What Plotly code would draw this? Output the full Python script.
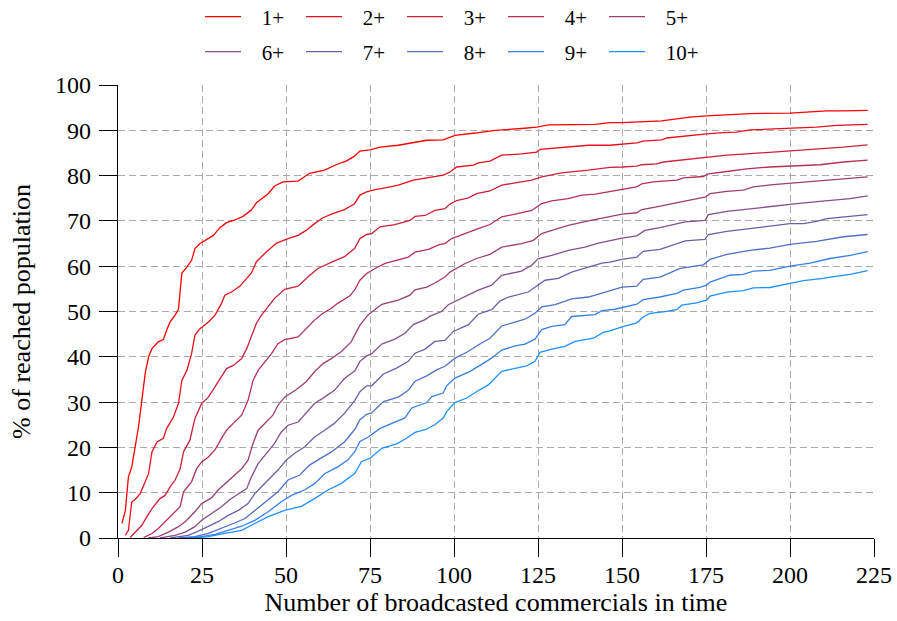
import plotly.graph_objects as go

# ---- data ----
series_names = ["1+", "2+", "3+", "4+", "5+", "6+", "7+", "8+", "9+", "10+"]

x_1p = [1.2, 2.2, 3.1, 4.1, 5.1, 6.1, 7.1, 8.1, 9.1, 10.1, 12.0, 13.5, 14.5, 15.5, 17.0, 18.0, 19.0, 20.5, 21.9, 22.9, 24.4, 26.4, 28.4, 30.3, 32.3, 34.8, 37.2, 39.7, 41.2, 44.7, 46.6, 49.1, 53.6, 57.0, 61.5, 64.9, 67.9, 70.4, 72.0, 75.0, 78.0, 83.4, 88.4, 91.9, 96.8, 100.3, 106.3, 112.2, 120.1, 124.6, 128.1, 134, 142, 146.4, 150, 161.8, 166.3, 170.2, 175.2, 182.1, 188.1, 200, 206, 210.9, 215.9, 223.1]
y_1p = [3.3, 6.1, 13.5, 15.7, 20.1, 24.5, 30.4, 36.4, 40.0, 41.8, 43.3, 43.8, 45.9, 47.7, 49.2, 50.5, 58.5, 59.8, 61.3, 63.9, 65.0, 65.9, 66.8, 68.5, 69.6, 70.2, 71.0, 72.4, 74.0, 76.0, 77.7, 78.6, 78.8, 80.5, 81.2, 82.4, 83.2, 84.3, 85.4, 85.7, 86.3, 86.7, 87.4, 87.8, 87.9, 88.9, 89.4, 90.0, 90.4, 90.7, 91.2, 91.3, 91.3, 91.7, 91.7, 92.1, 92.6, 92.9, 93.2, 93.5, 93.7, 93.8, 94.0, 94.3, 94.3, 94.4]

x_2p = [2.2, 3.1, 4.1, 5.1, 6.6, 8.1, 9.1, 10.1, 11.6, 13.5, 14.5, 16.5, 18.0, 19.0, 20.5, 21.9, 22.9, 24.4, 26.9, 28.9, 30.8, 31.8, 33.8, 36.3, 38.3, 39.7, 41.2, 44.2, 47.2, 50.6, 53.6, 56.0, 58.5, 61.0, 63.9, 67.4, 70.4, 72.0, 74.0, 76.5, 79.5, 83.4, 87.9, 91.9, 96.8, 98.8, 100.8, 105.8, 107.2, 110.7, 114.2, 120.1, 124.6, 125.6, 132, 140, 146.4, 150, 154.4, 156.3, 161.8, 163.3, 170.2, 175.2, 180.2, 184.1, 188.1, 196, 202, 207.9, 213.9, 223.1]
y_2p = [0.6, 1.7, 8.0, 8.5, 9.8, 12.4, 14.2, 19.0, 21.2, 22.0, 24.2, 26.7, 29.7, 34.8, 37.0, 40.7, 44.8, 46.2, 47.7, 49.2, 51.8, 53.6, 54.3, 55.6, 57.3, 58.5, 61.0, 63.2, 65.1, 66.1, 66.8, 67.9, 69.4, 70.7, 71.6, 72.5, 73.8, 75.7, 76.4, 76.9, 77.3, 77.9, 79.0, 79.5, 80.1, 80.8, 81.9, 82.3, 82.8, 83.2, 84.5, 84.8, 85.2, 85.8, 86.2, 86.7, 86.7, 87.0, 87.2, 87.6, 87.9, 88.3, 88.9, 89.2, 89.5, 89.6, 90.1, 90.4, 90.6, 90.7, 91.1, 91.3]

x_3p = [3.6, 5.1, 7.1, 8.6, 10.1, 12.5, 14.0, 15.5, 17.0, 18.5, 19.5, 21.4, 22.9, 24.9, 26.9, 28.9, 30.8, 32.3, 34.3, 36.8, 38.3, 39.7, 41.2, 42.7, 44.7, 46.6, 49.6, 53.6, 56.5, 59.5, 63.9, 67.4, 70.4, 72.0, 74.0, 75.5, 78.0, 82.4, 86.9, 88.4, 91.4, 94.3, 97.3, 98.8, 100.8, 104.3, 106.7, 110.7, 114.2, 118.2, 123.1, 126.1, 132, 140, 146.4, 150, 154.4, 155.9, 160.3, 162.3, 167.3, 172.2, 175.2, 181.2, 187.1, 193.1, 200, 207.9, 215.9, 223.1]
y_3p = [0.1, 1.3, 2.8, 4.7, 6.5, 8.7, 9.4, 11.3, 12.8, 15.3, 19.0, 21.6, 26.4, 29.7, 31.1, 33.4, 35.6, 37.4, 38.1, 39.6, 41.8, 44.4, 47.4, 49.2, 51.0, 52.9, 54.9, 55.6, 57.6, 59.5, 61.0, 62.1, 63.9, 66.1, 67.0, 67.2, 68.7, 69.2, 70.1, 71.0, 71.2, 72.3, 72.7, 73.7, 74.5, 75.1, 76.0, 76.6, 77.9, 78.4, 79.0, 79.7, 80.6, 81.2, 81.8, 81.9, 82.1, 82.4, 82.6, 83.0, 83.4, 83.7, 84.1, 84.5, 84.8, 85.1, 85.4, 85.8, 86.3, 86.8]

x_4p = [7.6, 10.1, 12.0, 14.0, 16.5, 18.5, 19.5, 21.9, 23.4, 24.9, 26.9, 28.9, 30.8, 32.3, 34.3, 36.8, 38.7, 40.2, 41.7, 44.2, 45.7, 47.6, 49.6, 53.6, 56.0, 58.5, 61.0, 63.5, 65.4, 68.9, 70.4, 72.0, 74.0, 76.5, 79.5, 83.4, 86.4, 88.4, 92.4, 95.8, 97.3, 99.3, 103.3, 107.2, 110.7, 114.2, 118.2, 123.1, 126.1, 129.1, 134, 138, 142, 147.9, 150, 154.4, 155.9, 159.3, 166.3, 168.3, 174.2, 175.7, 181.2, 187.1, 194, 200, 208.9, 215.9, 223.1]
y_4p = [0.1, 1.0, 2.1, 3.6, 5.4, 6.9, 10.2, 12.4, 15.3, 16.8, 17.9, 19.5, 22.0, 23.8, 25.3, 27.1, 30.4, 34.8, 37.0, 39.2, 40.7, 42.9, 43.8, 44.4, 46.2, 48.1, 49.6, 50.7, 51.8, 53.4, 54.7, 56.9, 58.4, 59.5, 60.6, 61.3, 62.0, 63.1, 63.7, 64.8, 65.0, 66.1, 67.3, 68.3, 69.2, 70.9, 71.5, 72.3, 73.8, 74.4, 74.9, 75.7, 75.9, 76.6, 77.0, 77.5, 78.2, 78.6, 79.0, 79.5, 79.8, 80.4, 80.9, 81.5, 81.9, 82.1, 82.4, 83.0, 83.4]

x_5p = [9.0, 12.0, 15.0, 18.0, 20.0, 22.9, 24.9, 27.9, 29.8, 32.3, 34.3, 36.8, 38.7, 40.2, 41.7, 44.2, 46.1, 47.6, 49.6, 53.1, 56.0, 58.5, 61.0, 63.5, 66.4, 69.4, 70.5, 72.0, 74.5, 78.5, 83.4, 86.9, 88.4, 91.9, 94.3, 97.3, 98.8, 103.3, 106.7, 110.7, 114.2, 120.1, 123.6, 126.1, 129.1, 134, 140, 146.4, 150, 154.4, 155.9, 160.3, 166.3, 170.2, 174.9, 176.2, 181.2, 186.1, 189.1, 195, 202, 207.9, 215.9, 223.1]
y_5p = [0.0, 0.3, 1.3, 2.5, 3.6, 5.8, 7.6, 8.9, 10.6, 12.2, 13.5, 15.3, 17.2, 20.9, 23.8, 25.6, 27.1, 29.3, 31.1, 32.8, 34.5, 36.7, 38.5, 39.6, 41.1, 43.3, 44.8, 47.0, 49.3, 51.6, 52.5, 53.6, 54.8, 55.4, 56.3, 57.6, 58.7, 60.6, 61.7, 62.6, 64.2, 65.0, 65.7, 67.2, 67.9, 69.0, 70.0, 70.9, 71.5, 71.8, 72.5, 73.1, 74.0, 74.5, 75.3, 76.0, 76.5, 76.8, 77.5, 78.0, 78.4, 78.8, 79.3, 79.7]

x_6p = [12.5, 17.0, 20.0, 22.9, 24.9, 27.9, 30.8, 33.3, 35.8, 38.3, 39.7, 41.7, 44.2, 46.6, 48.6, 50.6, 53.6, 56.0, 58.5, 61.5, 64.4, 67.4, 70.5, 72.0, 74.0, 75.5, 78.5, 82.4, 85.4, 87.9, 91.4, 92.9, 96.3, 98.3, 101.3, 103.3, 107.2, 111.2, 114.2, 120.1, 123.1, 125.1, 129.1, 134, 139, 143, 146.4, 150, 154.4, 156.8, 161.3, 166.3, 168.8, 174.7, 175.7, 181.2, 188.1, 196, 202, 208.9, 217.9, 223.1]
y_6p = [0.0, 0.6, 1.3, 2.5, 3.9, 5.4, 6.9, 8.5, 9.8, 10.9, 13.5, 16.4, 18.7, 20.9, 23.4, 24.9, 25.6, 27.5, 29.7, 31.1, 32.6, 35.2, 36.9, 39.0, 40.2, 40.7, 42.8, 43.9, 45.2, 47.1, 48.2, 49.0, 50.0, 51.5, 52.6, 53.2, 54.7, 55.8, 58.0, 58.9, 60.2, 61.7, 62.4, 63.5, 64.2, 65.1, 65.7, 66.2, 66.7, 67.9, 68.5, 69.4, 69.8, 70.1, 71.4, 72.1, 72.7, 73.3, 73.8, 74.3, 74.9, 75.5]

x_7p = [15.5, 20.9, 23.9, 26.9, 29.8, 32.8, 35.8, 38.7, 40.7, 42.7, 45.2, 47.6, 50.1, 52.6, 55.5, 58.5, 61.5, 64.4, 67.4, 70.5, 72.0, 74.0, 75.5, 79.0, 82.9, 86.4, 88.4, 91.4, 94.3, 97.3, 99.8, 104.3, 107.2, 111.2, 113.7, 116.2, 122.1, 125.1, 127.1, 131, 135, 140, 144, 146.4, 150, 154.4, 156.3, 161.3, 167.3, 168.8, 174.7, 175.7, 181.2, 188.1, 194, 200, 204, 207.9, 210.9, 217.9, 223.1]
y_7p = [0.0, 0.6, 1.5, 2.5, 3.6, 5.0, 6.1, 7.6, 9.8, 11.3, 13.1, 15.0, 17.2, 18.7, 20.1, 22.3, 23.8, 25.3, 27.5, 30.4, 32.3, 33.6, 33.6, 36.2, 37.5, 39.0, 40.8, 41.7, 43.4, 43.6, 45.6, 47.1, 49.4, 50.4, 52.3, 53.2, 54.3, 55.8, 56.9, 57.3, 58.7, 59.8, 60.7, 60.9, 61.5, 62.0, 63.3, 63.7, 65.3, 65.6, 65.9, 67.0, 67.7, 68.3, 68.9, 69.4, 69.4, 69.9, 70.5, 71.1, 71.4]

x_8p = [18.0, 22.9, 26.9, 30.8, 34.3, 37.8, 40.7, 44.2, 47.6, 50.6, 54.1, 57.0, 60.0, 63.5, 67.4, 70.5, 72.0, 74.0, 75.5, 79.0, 83.4, 86.4, 88.4, 91.9, 94.8, 97.3, 100.3, 103.8, 107.2, 110.7, 114.2, 117.7, 121.1, 124.1, 126.1, 130.1, 135, 140, 144.9, 146.4, 150, 154.4, 156.3, 161.3, 167.3, 174.2, 176.2, 181.2, 188.1, 194, 200, 207.9, 215.9, 223.1]
y_8p = [0.0, 0.3, 1.0, 2.1, 3.2, 4.3, 6.1, 8.3, 10.2, 12.8, 13.9, 16.1, 17.5, 19.0, 21.2, 24.0, 26.1, 27.3, 27.6, 30.1, 31.1, 32.6, 34.6, 35.8, 37.1, 37.9, 39.7, 41.0, 42.6, 44.1, 46.8, 47.6, 48.3, 49.6, 51.0, 51.5, 52.8, 53.2, 54.3, 54.7, 55.4, 55.6, 57.1, 57.6, 59.5, 60.3, 61.5, 62.6, 63.5, 64.0, 64.8, 65.5, 66.5, 67.0]

x_9p = [20.0, 24.9, 28.9, 32.8, 36.8, 40.7, 44.7, 48.6, 51.6, 55.5, 58.5, 61.5, 65.4, 68.4, 70.5, 72.0, 74.5, 78.0, 81.4, 85.4, 87.4, 91.9, 93.4, 96.8, 97.8, 100.3, 104.8, 108.2, 111.2, 114.2, 118.2, 121.1, 124.1, 126.1, 129.1, 133, 135, 142, 144, 147.9, 150, 154.4, 156.3, 161.3, 166.3, 168.3, 173.2, 175.2, 176.2, 182.1, 186.1, 189.1, 194, 200, 206, 211.9, 217.9, 223.1]
y_9p = [0.0, 0.3, 0.8, 1.7, 2.6, 3.9, 5.8, 8.0, 9.4, 10.6, 12.0, 14.2, 15.7, 17.2, 19.1, 21.3, 22.3, 24.2, 25.3, 26.5, 28.7, 29.9, 31.2, 32.0, 33.6, 35.3, 36.8, 38.4, 39.7, 41.5, 42.4, 42.8, 43.9, 46.0, 46.7, 47.1, 48.9, 49.3, 50.2, 50.5, 50.9, 51.6, 52.6, 53.2, 54.0, 54.7, 55.3, 55.8, 56.5, 58.0, 58.2, 58.9, 59.1, 60.0, 60.7, 61.7, 62.4, 63.2]

x_10p = [22.0, 26.9, 31.8, 36.8, 40.7, 44.7, 49.6, 54.6, 58.5, 62.5, 66.4, 70.5, 72.5, 75.0, 78.5, 82.9, 85.4, 88.4, 91.4, 94.3, 96.8, 97.8, 100.3, 103.8, 106.7, 110.2, 114.2, 118.2, 121.6, 124.1, 125.6, 129.1, 133, 136, 141.5, 144.4, 146.4, 150, 154.4, 156.3, 158.3, 162.3, 166.3, 167.8, 172.2, 175.2, 176.2, 181.2, 186.1, 189.1, 194, 200, 204, 209.9, 211.9, 217.9, 223.1]
y_10p = [0.0, 0.3, 1.0, 1.7, 3.2, 4.7, 6.1, 7.0, 8.7, 10.6, 12.0, 14.3, 16.9, 17.6, 19.8, 20.8, 21.8, 23.3, 23.9, 25.0, 26.5, 27.9, 29.9, 30.9, 32.3, 33.8, 36.8, 37.5, 38.0, 39.0, 41.0, 41.7, 42.3, 43.4, 44.1, 45.4, 45.7, 46.6, 47.5, 48.8, 49.6, 49.9, 50.4, 51.4, 51.9, 52.5, 53.4, 54.3, 54.6, 55.2, 55.3, 56.2, 56.8, 57.3, 57.6, 58.2, 59.0]

x_ticks = [0, 25, 50, 75, 100, 125, 150, 175, 200, 225]
y_ticks = [0, 10, 20, 30, 40, 50, 60, 70, 80, 90, 100]

xs = [x_1p, x_2p, x_3p, x_4p, x_5p, x_6p, x_7p, x_8p, x_9p, x_10p]
ys = [y_1p, y_2p, y_3p, y_4p, y_5p, y_6p, y_7p, y_8p, y_9p, y_10p]

# colour gradient red -> dodger blue
c0 = (255, 0, 0)
c1 = (30, 144, 255)
def mix(t):
    return "rgb(%d,%d,%d)" % tuple(round(a + (b - a) * t) for a, b in zip(c0, c1))

FONT = "Liberation Serif"
PAD = "\u00a0\u00a0\u00a0"  # spacing between legend line sample and its label
fig = go.Figure()
for i, (name, xv, yv) in enumerate(zip(series_names, xs, ys)):
    fig.add_trace(go.Scatter(
        x=xv, y=yv, mode="lines", name=PAD + name,
        line=dict(color=mix(i / 9), width=1.3),
        legend="legend" if i < 5 else "legend2",
    ))

W, H = 897, 621
L, T, R, B = 118, 85, 897 - 874, 621 - 538
pw, ph = W - L - R, H - T - B

grid = dict(showgrid=True, gridcolor="#aaaaaa", gridwidth=1, griddash="7px,4px")
fig.update_xaxes(range=[0, 225], tickvals=x_ticks, ticks="outside", ticklen=18,
                 tickcolor="black", tickwidth=1.3, showline=True, linecolor="black",
                 linewidth=1.3, zeroline=False, ticklabelstandoff=-3,
                 tickfont=dict(family=FONT, size=24, color="black"),
                 title=dict(text="Number of broadcasted commercials in time",
                            font=dict(family=FONT, size=26, color="black"), standoff=5),
                 **grid)
fig.update_yaxes(range=[0, 100], tickvals=y_ticks, ticks="outside", ticklen=18,
                 tickcolor="black", tickwidth=1.3, showline=True, linecolor="black",
                 linewidth=1.3, zeroline=False, ticklabelstandoff=3,
                 tickfont=dict(family=FONT, size=24, color="black"),
                 title=dict(text="% of reached population",
                            font=dict(family=FONT, size=26, color="black"), standoff=16),
                 **grid)

leg = dict(orientation="h", xref="paper", yref="paper", xanchor="left", yanchor="middle",
           font=dict(family=FONT, size=21, color="black"), entrywidth=50,
           entrywidthmode="pixels", bgcolor="rgba(0,0,0,0)", itemwidth=36)
lx = (200 - L) / pw
fig.update_layout(
    width=W, height=H,
    margin=dict(l=L, r=R, t=T, b=B, autoexpand=False),
    paper_bgcolor="white", plot_bgcolor="white",
    showlegend=True,
    legend=dict(x=lx, y=1 + (T - 17) / ph, **leg),
    legend2=dict(x=lx, y=1 + (T - 52) / ph, **leg),
)
fig.write_html(
    "out.html",
    config={"displayModeBar": False},
    post_script="document.body.style.margin='0';"
                "document.body.style.overflow='hidden';"
                "document.documentElement.style.overflow='hidden';",
)
